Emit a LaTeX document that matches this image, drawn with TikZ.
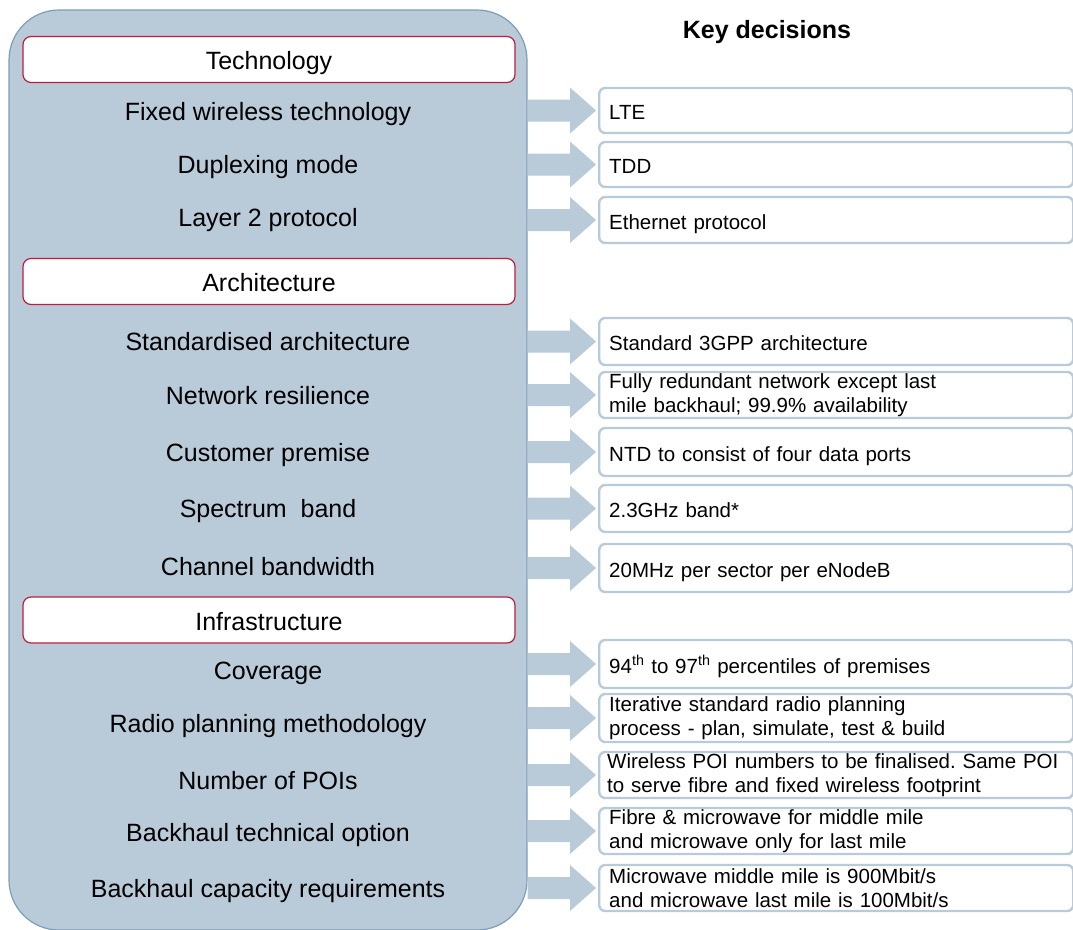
\documentclass[tikz,border=0pt]{standalone}
\usepackage{fontspec}
\setmainfont{Liberation Sans}
\usetikzlibrary{calc}
\definecolor{panelfill}{RGB}{185,202,216}
\definecolor{paneledge}{RGB}{125,158,186}
\definecolor{headred}{RGB}{190,30,60}
\frenchspacing
\begin{document}
\begin{tikzpicture}[x=1pt,y=-1pt,
  panel/.style={draw=paneledge,line width=1.2pt,fill=panelfill,rounded corners=50pt,minimum width=518pt,minimum height=920pt,inner sep=0pt},
  headbox/.style={draw=headred,line width=1.2pt,fill=white,rounded corners=8pt,minimum width=492pt,minimum height=46pt,inner sep=0pt,text height=22pt,text depth=2pt,font=\fontsize{25}{30}\selectfont},
  item/.style={anchor=base,inner sep=0pt,font=\fontsize{25}{30}\selectfont},
  decbox/.style={draw=panelfill,line width=2.4pt,fill=white,rounded corners=6pt,anchor=west,minimum width=474pt,text width=454pt,inner xsep=10pt,inner ysep=0pt,align=left,font=\fontsize{20.5}{24}\selectfont},
  oneline/.style={text height=19pt,text depth=1pt},
  arr/.style={fill=panelfill},
  title/.style={font=\bfseries\fontsize{25}{30}\selectfont,inner sep=0pt}
]
\useasboundingbox (0,0) rectangle (1073,929);
\node[panel] (panel) at (268,470) {};
\node[title] (kd) at (767,32) {Key decisions};

\node[headbox] (h1) at (269,59.5) {Technology};
\node[headbox] (h2) at (269,281.5) {Architecture};
\node[headbox] (h3) at (269,620) {Infrastructure};

\node[item] (l1) at (268,120) {Fixed wireless technology};
\node[item] (l2) at (268,173) {Duplexing mode};
\node[item] (l3) at (268,226) {Layer 2 protocol};
\node[item] (l4) at (268,350) {Standardised architecture};
\node[item] (l5) at (268,404) {Network resilience};
\node[item] (l6) at (268,461) {Customer premise};
\node[item] (l7) at (268,517) {Spectrum~ band};
\node[item] (l8) at (268,575) {Channel bandwidth};
\node[item] (l9) at (268,679) {Coverage};
\node[item] (l10) at (268,732) {Radio planning methodology};
\node[item] (l11) at (268,789) {Number of POIs};
\node[item] (l12) at (268,841) {Backhaul technical option};
\node[item] (l13) at (268,897) {Backhaul capacity requirements};

\node[decbox,oneline,minimum height=45pt] (r1) at (598,110.5) {LTE};
\node[decbox,oneline,minimum height=45pt] (r2) at (598,164.5) {TDD};
\node[decbox,oneline,minimum height=46pt] (r3) at (598,220) {Ethernet protocol};
\node[decbox,oneline,minimum height=47pt] (r4) at (598,341.5) {Standard 3GPP architecture};
\node[decbox,minimum height=46pt] (r5) at (598,395) {Fully redundant network except last\\mile backhaul; 99.9\% availability};
\node[decbox,oneline,minimum height=48pt] (r6) at (598,452) {NTD to consist of four data ports};
\node[decbox,oneline,minimum height=47pt] (r7) at (598,508.5) {2.3GHz band*};
\node[decbox,oneline,minimum height=48pt] (r8) at (598,568) {20MHz per sector per eNodeB};
\node[decbox,oneline,minimum height=48pt] (r9) at (598,664) {94\textsuperscript{th} to 97\textsuperscript{th} percentiles of premises};
\node[decbox,minimum height=48pt] (r10) at (598,718) {Iterative standard radio planning\\process - plan, simulate, test \& build};
\node[decbox,minimum height=46pt,inner xsep=8pt,text width=458pt] (r11) at (598,775) {Wireless POI numbers to be finalised. Same POI\\to serve fibre and fixed wireless footprint};
\node[decbox,minimum height=46pt] (r12) at (598,831) {Fibre \& microwave for middle mile\\and microwave only for last mile};
\node[decbox,minimum height=46pt] (r13) at (598,888) {Microwave middle mile is 900Mbit/s\\and microwave last mile is 100Mbit/s};

\foreach \b in {r1,r2,r3,r4,r5,r6,r7,r8,r9,r10,r11,r12,r13}{
  \fill[arr] ([shift={(-2pt,0pt)}]\b.west)
    -- ([shift={(-28pt,23pt)}]\b.west)
    -- ([shift={(-28pt,11pt)}]\b.west)
    -- ([shift={(0pt,11pt)}]panel.east |- \b.west)
    -- ([shift={(0pt,-11pt)}]panel.east |- \b.west)
    -- ([shift={(-28pt,-11pt)}]\b.west)
    -- ([shift={(-28pt,-23pt)}]\b.west) -- cycle;
}
\end{tikzpicture}
\end{document}
